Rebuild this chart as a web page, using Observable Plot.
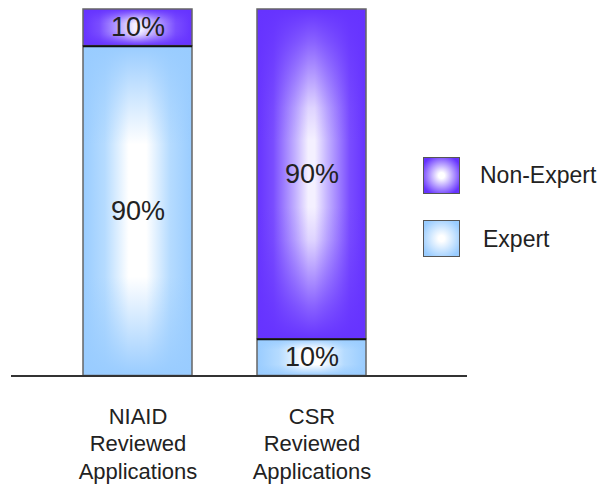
<!DOCTYPE html>
<html>
<head>
<meta charset="utf-8">
<script src="https://cdn.jsdelivr.net/npm/d3@7"></script>
<script src="https://cdn.jsdelivr.net/npm/@observablehq/plot@0.6"></script>
<style>
  body { margin: 0; background: #fff; font-family: "Liberation Sans", Arial, sans-serif; }
  #wrap { position: relative; width: 603px; height: 486px; }
  #wrap svg { overflow: visible; }
  .sw { position: absolute; width: 35px; height: 35px; border: 1.5px solid #555; }
  .lt { position: absolute; font-size: 23px; color: #222; line-height: 1; }
</style>
</head>
<body>
<div id="wrap"></div>
<script>
const categories = ["NIAID\nReviewed\nApplications", "CSR\nReviewed\nApplications"];
const groups = ["Expert", "Non-Expert"];
const expertValues = [90, 10];
const nonExpertValues = [10, 90];
const groupColors = {"Expert": "#99ccff", "Non-Expert": "#6633ff"};

const data = [];
categories.forEach((c, i) => {
  data.push({category: c, group: "Expert", value: expertValues[i]});
  data.push({category: c, group: "Non-Expert", value: nonExpertValues[i]});
});

function defs() {
  const d = d3.create("svg:defs");
  const mk = (id, horizontal, stops) => {
    const g = d.append("linearGradient").attr("id", id)
      .attr("x1", 0).attr("y1", 0)
      .attr("x2", horizontal ? 1 : 0).attr("y2", horizontal ? 0 : 1);
    stops.forEach(([o, c, a]) => g.append("stop").attr("offset", o).attr("stop-color", c).attr("stop-opacity", a));
  };
  mk("blueH", true, [[0, "#99ccff", 1], [0.2, "#b5dbff", 1], [0.42, "#ffffff", 1], [0.58, "#ffffff", 1], [0.8, "#b5dbff", 1], [1, "#99ccff", 1]]);
  mk("blueV", false, [[0, "#99ccff", 1], [0.12, "#99ccff", 0.6], [0.3, "#99ccff", 0], [0.7, "#99ccff", 0], [0.88, "#99ccff", 0.6], [1, "#99ccff", 1]]);
  mk("purpH", true, [[0, "#6633ff", 1], [0.15, "#7a4dff", 1], [0.35, "#c2b0ff", 1], [0.47, "#f4f0ff", 1], [0.53, "#f4f0ff", 1], [0.65, "#c2b0ff", 1], [0.85, "#7a4dff", 1], [1, "#6633ff", 1]]);
  mk("purpV", false, [[0, "#6633ff", 1], [0.1, "#6633ff", 0.75], [0.3, "#6633ff", 0.15], [0.4, "#6633ff", 0], [0.6, "#6633ff", 0], [0.7, "#6633ff", 0.15], [0.9, "#6633ff", 0.75], [1, "#6633ff", 1]]);
  return d.node();
}

const expertData = data.filter(d => d.group === "Expert");

const chart = Plot.plot({
  width: 603,
  height: 486,
  marginTop: 9,
  marginBottom: 110.5,
  marginLeft: 11,
  marginRight: 136,
  style: {fontFamily: "'Liberation Sans', Arial, sans-serif", background: "#fff", overflow: "visible"},
  x: {domain: categories, range: [48.2, 400.8], paddingInner: 0.374, paddingOuter: 0.2, axis: null},
  y: {domain: [0, 100], axis: null},
  marks: [
    defs,
    Plot.barY(data, Plot.stackY({x: "category", y: "value", z: "group", order: groups,
      fill: d => d.group === "Expert" ? "url(#blueH)" : "url(#purpH)"})),
    Plot.barY(data, Plot.stackY({x: "category", y: "value", z: "group", order: groups,
      fill: d => d.group === "Expert" ? "url(#blueV)" : "url(#purpV)", stroke: "#666", strokeWidth: 1.5})),
    Plot.tickY(expertData, {x: "category", y: "value", stroke: "#111", strokeWidth: 2}),
    Plot.text(data, Plot.stackY({x: "category", y: "value", z: "group", order: groups,
      text: d => `${d.value}%`, fontSize: 27, fill: "#222"})),
    Plot.ruleY([0], {stroke: "#333", strokeWidth: 2}),
    Plot.text(categories, {x: d => d, frameAnchor: "bottom", dy: 28, lineAnchor: "top",
      lineHeight: 1.25, fontSize: 22, fill: "#222", text: d => d})
  ]
});

const wrap = document.getElementById("wrap");
wrap.appendChild(chart);

const legend = [
  {label: "Non-Expert", color: groupColors["Non-Expert"], top: 157, textLeft: 480, textTop: 164},
  {label: "Expert", color: groupColors["Expert"], top: 220, textLeft: 483, textTop: 228}
];
legend.forEach(l => {
  const s = document.createElement("div");
  s.className = "sw";
  s.style.left = "423px";
  s.style.top = l.top + "px";
  s.style.background = `radial-gradient(circle, #ffffff 0%, #ffffff 12%, ${l.color} 85%)`;
  wrap.appendChild(s);
  const t = document.createElement("div");
  t.className = "lt";
  t.style.left = l.textLeft + "px";
  t.style.top = l.textTop + "px";
  t.textContent = l.label;
  wrap.appendChild(t);
});
</script>
</body>
</html>
